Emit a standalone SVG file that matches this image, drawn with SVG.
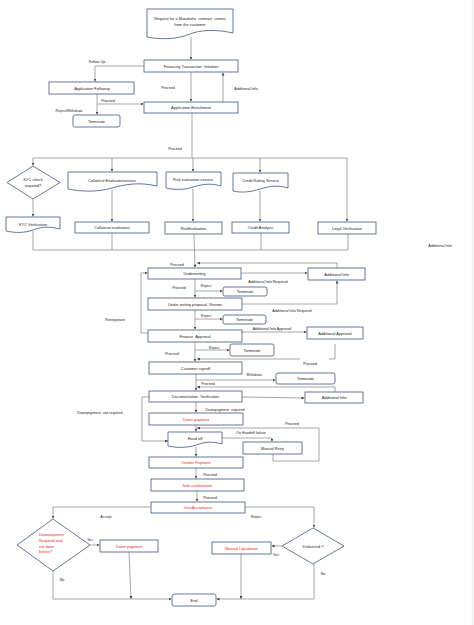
<svg xmlns="http://www.w3.org/2000/svg" width="474" height="625" viewBox="0 0 474 625">
<style>
.b{fill:#fff;stroke:#56698a;stroke-width:0.9}
.c{fill:none;stroke:#6b6b6b;stroke-width:0.6}
.ca{fill:none;stroke:#6b6b6b;stroke-width:0.6;marker-end:url(#a)}
text{font-family:"Liberation Sans",Arial,sans-serif;font-size:3.9px;fill:#222;text-anchor:middle;dominant-baseline:central}
.r{fill:#e8281e}
.l{font-size:3.7px}
</style>
<defs>
<marker id="a" viewBox="0 0 6 6" refX="6" refY="3" markerWidth="3" markerHeight="3" orient="auto" markerUnits="userSpaceOnUse"><path d="M0,0 L6,3 L0,6 z" fill="#444"/></marker>
</defs>
<rect width="474" height="625" fill="#fff"/>
<line x1="472.5" y1="0" x2="472.5" y2="625" stroke="#ececec" stroke-width="1.5"/>

<g id="connectors">
<path class="ca" d="M191,37 V59.5"/>
<path class="ca" d="M191,72 V101.5"/>
<path class="ca" d="M223,102 V72.5"/>
<path class="ca" d="M144,66 H95 V81.5"/>
<path class="ca" d="M97,94 V114.5"/>
<path class="ca" d="M97,104 H143.5"/>
<path class="c" d="M192,113 V158"/>
<path class="c" d="M33,158 H347"/>
<path class="ca" d="M33,158 V165.5"/>
<path class="ca" d="M112,158 V171.5"/>
<path class="ca" d="M193,158 V171.5"/>
<path class="ca" d="M260,158 V172.5"/>
<path class="ca" d="M347,158 V221.5"/>
<path class="ca" d="M33,199 V216.5"/>
<path class="ca" d="M112,190 V221.5"/>
<path class="ca" d="M193,189 V221.5"/>
<path class="ca" d="M260,191 V221.5"/>
<path class="c" d="M33,231 V250 H348 V234"/>
<path class="c" d="M112,233 V250"/>
<path class="c" d="M261,233 V250"/>
<path class="ca" d="M194,234 L195,267.5"/>
<path class="ca" d="M241,273 H307.5"/>
<path class="ca" d="M337,268 V263 H197"/>
<path class="ca" d="M195,279 V297.5"/>
<path class="ca" d="M195,291 H222.5"/>
<path class="ca" d="M242,304 H337 V280.5"/>
<path class="ca" d="M195,310 V329.5"/>
<path class="ca" d="M195,319 H222.5"/>
<path class="ca" d="M148,333 H141 V273 H147.5"/>
<path class="ca" d="M242,332 H306.5"/>
<path class="c" d="M335,344 V359 H329"/>
<path class="ca" d="M300,359 H197"/>
<path class="ca" d="M195,342 V361.5"/>
<path class="ca" d="M195,350 H229.5"/>
<path class="ca" d="M196,374 V390.5"/>
<path class="ca" d="M196,380 H275.5"/>
<path class="ca" d="M335,392 V387 H197"/>
<path class="ca" d="M242,397 L304.5,398"/>
<path class="ca" d="M196,402 V412.5"/>
<path class="ca" d="M149,397 H142 V441 H168"/>
<path class="ca" d="M196,425 V431.5"/>
<path class="ca" d="M273,454 V461 H319 V428 H197"/>
<path class="ca" d="M222,438 H272 V441.5"/>
<path class="ca" d="M196,447 V456.5"/>
<path class="ca" d="M196,468 V478.5"/>
<path class="ca" d="M197,491 V501.5"/>
<path class="ca" d="M151,507 H53 V518.5"/>
<path class="ca" d="M245,507 H314 V527.5"/>
<path class="ca" d="M90,545 H99.5"/>
<path class="ca" d="M129,552 L131,599"/>
<path class="ca" d="M53,571 V599 H171.5"/>
<path class="ca" d="M282,546 H271.5"/>
<path class="ca" d="M241,554 V599"/>
<path class="ca" d="M314,564 V599 H216.5"/>
</g>

<g id="labels" class="lbl">
<text class="l" x="97" y="62">Follow Up</text>
<text class="l" x="168" y="88">Proceed</text>
<text class="l" x="246" y="89">Additional Info</text>
<text class="l" x="108" y="101">Proceed</text>
<text class="l" x="69" y="111">Reject/Withdraw</text>
<text class="l" x="175" y="149">Proceed</text>
<text class="l" x="440" y="246">Additional Info</text>
<text class="l" x="177" y="265">Proceed</text>
<text class="l" x="268" y="282">Additional Info Required</text>
<text class="l" x="179" y="288">Proceed</text>
<text class="l" x="206" y="286">Reject</text>
<text class="l" x="292" y="311">Additional Info Required</text>
<text class="l" x="206" y="316">Reject</text>
<text class="l" x="115" y="320">Renegotiate</text>
<text class="l" x="272" y="329">Additional Info Approval</text>
<text class="l" x="214" y="348">Reject</text>
<text class="l" x="172" y="354">Proceed</text>
<text class="l" x="310" y="364">Proceed</text>
<text class="l" x="254" y="375">Withdraw</text>
<text class="l" x="208" y="384">Proceed</text>
<text class="l" x="225" y="410" xml:space="preserve">Downpayment  required</text>
<text class="l" x="100" y="413" xml:space="preserve">Downpayment  not required</text>
<text class="l" x="292" y="424">Proceed</text>
<text class="l" x="251" y="433">On Handoff failure</text>
<text class="l" x="210" y="475">Proceed</text>
<text class="l" x="210" y="498">Proceed</text>
<text class="l" x="106" y="517">Accept</text>
<text class="l" x="256" y="517">Reject</text>
<text class="l" x="90" y="540">Yes</text>
<text class="l" x="62" y="580">No</text>
<text class="l" x="276" y="555">Yes</text>
<text class="l" x="323" y="574">No</text>
</g>

<g id="request">
<path class="b" d="M147,9 H233 V33 C215,29 200,30 190,34 C178,39 162,40 147,37 Z"/>
<text x="190" y="18" xml:space="preserve">Request for a Murabaha  contract  comes</text>
<text x="190" y="24">from the customer</text>
</g>
<g id="fti"><rect class="b" x="144" y="60" width="94" height="12"/><text x="191" y="66" xml:space="preserve">Financing Transaction  Initiation</text></g>
<g id="followup"><rect class="b" x="49" y="82" width="85" height="12"/><text x="92" y="88">Application Followup</text></g>
<g id="enrich"><rect class="b" x="144" y="102" width="94" height="11"/><text x="191" y="107.5">Application Enrichment</text></g>
<g id="term1"><rect class="b" x="73" y="115" width="47" height="12" rx="2"/><text x="96.5" y="121">Terminate</text></g>

<g id="kyc"><path class="b" d="M33,166 L60,182.5 L33,199 L7,182.5 Z"/><text x="33" y="179.5">KYC check</text><text x="33" y="185.5">required?</text></g>
<g id="kycv"><path class="b" d="M6,217 H60 V229 C48,226 40,227 33,230 C25,233 15,233 6,231 Z"/><text x="33" y="224">KYC Verification</text></g>
<g id="coll"><path class="b" d="M68,172 H157 V186 C140,182 126,184 112,188 C98,192 83,192 68,189 Z"/><text x="112" y="180">Collateral Evaluationservice</text></g>
<g id="colle"><rect class="b" x="75" y="222" width="74" height="11"/><text x="112" y="227.5">Collateral  evaluation</text></g>
<g id="risks"><path class="b" d="M166,172 H221 V186 C211,183 203,184 193,187 C184,190 175,190 166,188 Z"/><text x="193" y="179.5">Risk evaluation  service</text></g>
<g id="riske"><rect class="b" x="165" y="222" width="57" height="12"/><text x="193.5" y="228">RiskEvaluation</text></g>
<g id="credits"><path class="b" d="M233,173 H288 V188 C278,185 270,186 260,189 C251,192 242,193 233,191 Z"/><text x="260.5" y="180">Credit Rating Service</text></g>
<g id="credita"><rect class="b" x="232" y="222" width="57" height="11"/><text x="260.5" y="227.5">Credit Analysis</text></g>
<g id="legal"><rect class="b" x="318" y="222" width="58" height="12"/><text x="347" y="228">Legal Verification</text></g>

<g id="uw"><rect class="b" x="148" y="268" width="93" height="11"/><text x="194.5" y="273.5">Underwriting</text></g>
<g id="addinfo1"><rect class="b" x="308" y="268" width="57" height="12"/><text x="336.5" y="274">Additional Info</text></g>
<g id="term2"><rect class="b" x="223" y="287" width="44" height="9" rx="2"/><text x="245" y="291.5">Terminate</text></g>
<g id="uwr"><rect class="b" x="148" y="298" width="94" height="12"/><text x="195" y="304" xml:space="preserve">Under writing proposal  Review</text></g>
<g id="term3"><rect class="b" x="223" y="315" width="43" height="9" rx="2"/><text x="244.5" y="319.5">Terminate</text></g>
<g id="fa"><rect class="b" x="148" y="330" width="94" height="12"/><text x="195" y="336" xml:space="preserve">Finance  Approval</text></g>
<g id="addappr"><rect class="b" x="307" y="327" width="56" height="12"/><text x="335" y="333">Additional Approval</text></g>
<g id="term4"><rect class="b" x="230" y="344" width="44" height="12" rx="2"/><text x="252" y="350">Terminate</text></g>
<g id="cs"><rect class="b" x="149" y="362" width="93" height="12"/><text x="195.5" y="368">Customer signoff</text></g>
<g id="term5"><rect class="b" x="276" y="373" width="59" height="11" rx="2"/><text x="305.5" y="378.5">Terminate</text></g>
<g id="dv"><rect class="b" x="149" y="391" width="93" height="11"/><text x="195.5" y="396.5" xml:space="preserve">Documentation  Verification</text></g>
<g id="addinfo2"><rect class="b" x="305" y="392" width="58" height="11"/><text x="334" y="397.5">Additional Info</text></g>
<g id="dp1"><rect class="b" x="149" y="413" width="94" height="12"/><text class="r" x="196" y="419">Down payment</text></g>
<g id="handoff"><path class="b" d="M168,432 H222 V444 C212,441 204,442 196,445 C187,448 177,448 168,446 Z"/><text x="195" y="438.5">Hand off</text></g>
<g id="retry"><rect class="b" x="243" y="442" width="59" height="12"/><text x="272.5" y="448">Manual Retry</text></g>
<g id="vendor"><rect class="b" x="149" y="457" width="94" height="11"/><text class="r" x="196" y="462.5">Vendor Payment</text></g>
<g id="sale"><rect class="b" x="151" y="479" width="93" height="12"/><text class="r" x="197.5" y="485">Sale confirmation</text></g>
<g id="ua"><rect class="b" x="151" y="502" width="94" height="11"/><text class="r" x="198" y="507.5">UserAcceptance</text></g>

<g id="dpq"><path class="b" d="M53,519 L90,545 L53,571 L17,545 Z"/>
<text class="r" x="39" y="534.5" style="text-anchor:start">Downpayment</text>
<text class="r" x="39" y="540.3" style="text-anchor:start">Required and</text>
<text class="r" x="39" y="546.1" style="text-anchor:start">not done</text>
<text class="r" x="39" y="551.9" style="text-anchor:start">before?</text></g>
<g id="dp2"><rect class="b" x="100" y="540" width="58" height="12"/><text class="r" x="129" y="546">Down payment</text></g>
<g id="disb"><path class="b" d="M313,528 L344,546 L313,564 L282,546 Z"/><text x="313" y="546">Disbursed ?</text></g>
<g id="liq"><rect class="b" x="212" y="542" width="59" height="12"/><text class="r" x="241.5" y="548">Manual Liquidation</text></g>
<g id="end"><rect class="b" x="172" y="594" width="44" height="12" rx="2"/><text x="194" y="600">End</text></g>
</svg>
